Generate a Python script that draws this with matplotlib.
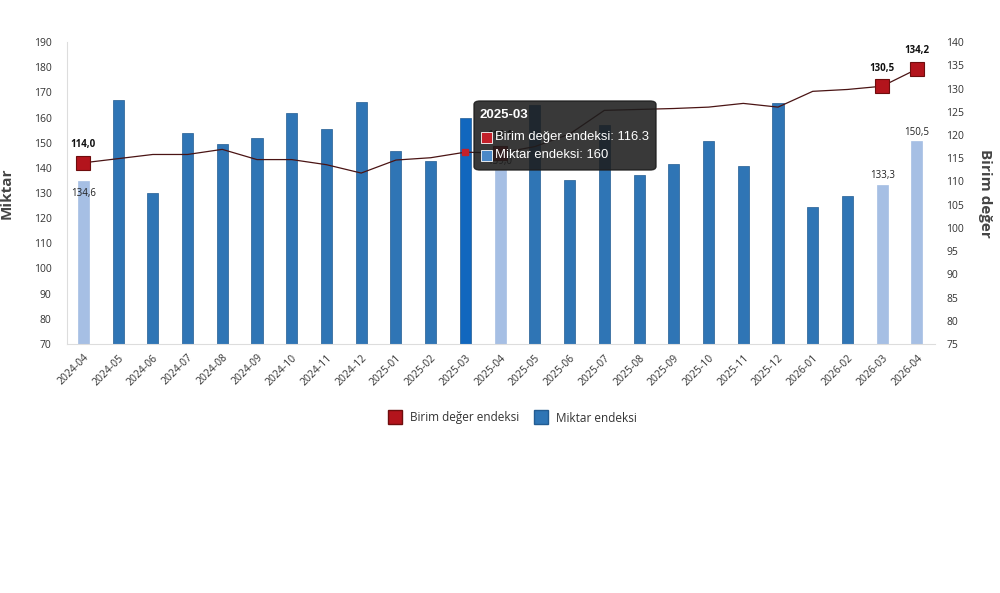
import matplotlib.pyplot as plt
import numpy as np
from matplotlib.patches import FancyBboxPatch, Rectangle
from matplotlib.lines import Line2D

plt.rcParams['font.family'] = ['Open Sans', 'DejaVu Sans']

months = ['2024-04', '2024-05', '2024-06', '2024-07', '2024-08', '2024-09', '2024-10',
          '2024-11', '2024-12', '2025-01', '2025-02', '2025-03', '2025-04', '2025-05',
          '2025-06', '2025-07', '2025-08', '2025-09', '2025-10', '2025-11', '2025-12',
          '2026-01', '2026-02', '2026-03', '2026-04']
miktar = [134.6, 167.0, 130.0, 154.0, 149.5, 152.0, 162.0, 155.6, 166.3,
          146.8, 142.8, 160.0, 139.0, 165.0, 135.1, 157.2, 137.1, 141.7, 150.6, 140.8, 165.6,
          124.5, 128.8, 133.3, 150.5]
birim = [114.0, 114.9, 115.8, 115.8, 116.9, 114.7, 114.7, 113.6, 111.8,
         114.6, 115.1, 116.3, 116.1, 117.5, 120.2, 125.3, 125.5, 125.7, 126.0, 126.8, 126.0,
         129.4, 129.8, 130.5, 134.2]
highlight = [0, 12, 23, 24]   # light bars + labelled points
hover = 11                    # 2025-03 tooltip

blue = '#2f75b5'
light = '#a6bfe4'
red = '#b3141c'

fig = plt.figure(figsize=(10, 5.93), dpi=100)
ax = fig.add_axes([0.067, 0.42, 0.868, 0.509])
ax2 = ax.twinx()

x = np.arange(len(months))
colors = [light if i in highlight else blue for i in x]
colors[hover] = '#1167be'
edges = [light if i in highlight else '#235c92' for i in x]
ax.bar(x, miktar, width=0.32, color=colors, edgecolor=edges, linewidth=0.5, zorder=2)

ax.set_ylim(70, 190)
ax.set_yticks(np.arange(70, 191, 10))
ax.set_xlim(-0.47, 24.52)
ax.set_xticks(x)
ax.set_xticklabels(months, rotation=45, ha='right', rotation_mode='anchor', fontsize=7.5, color='#333333')
ax.tick_params(axis='y', length=0, pad=11, labelsize=7.5, labelcolor='#333333')
ax.tick_params(axis='x', length=0, pad=6)
for s in ['top', 'right']:
    ax.spines[s].set_visible(False)
ax.spines['left'].set_color('#dddddd')
ax.spines['bottom'].set_color('#dddddd')
ax.set_ylabel('Miktar', fontsize=11, fontweight='bold', color='#444444')
ax.yaxis.set_label_coords(-0.061, 0.5)

ax2.set_ylim(75, 140)
ax2.set_yticks(np.arange(75, 141, 5))
ax2.tick_params(axis='y', length=0, pad=8, labelsize=7.5, labelcolor='#333333')
for s in ax2.spines.values():
    s.set_visible(False)
ax2.set_ylabel('Birim değer', fontsize=11, fontweight='bold', color='#444444',
               rotation=-90, va='center')
ax2.yaxis.set_label_coords(1.058, 0.5)

ax2.plot(x, birim, color='#4a1414', linewidth=0.9, zorder=3)
hx = [x[i] for i in highlight]
hy = [birim[i] for i in highlight]
ax2.plot(hx, hy, 's', markersize=9.5, markerfacecolor=red, markeredgecolor='#6e0d0d',
         markeredgewidth=0.8, zorder=4)
ax2.plot(x[hover], birim[hover], 's', markersize=4, color='#c4202a', zorder=4)

for i in highlight:
    ax2.annotate(f'{birim[i]:.1f}'.replace('.', ','), (x[i], birim[i]), xytext=(0, 13),
                 textcoords='offset points', ha='center', va='center', fontsize=7,
                 fontweight='bold', color='#111111', zorder=5)
    off = -8.5 if i == 0 else 6.5
    ax.annotate(f'{miktar[i]:.1f}'.replace('.', ','), (x[i], miktar[i]), xytext=(0, off),
                textcoords='offset points', ha='center', va='center', fontsize=7,
                color='#222222', zorder=5)

# tooltip (hover state in the screenshot)
W, H = fig.get_size_inches() * fig.dpi
def fx(px):
    return px / W
def fy(py):
    return 1 - py / H
box = FancyBboxPatch((fx(474), fy(170)), fx(656) - fx(474), fy(101) - fy(170),
                     boxstyle='round,pad=0,rounding_size=0.006', transform=fig.transFigure,
                     facecolor='#1d1d1d', edgecolor='#1d1d1d', alpha=0.88, zorder=10)
fig.patches.append(box)
tfam = ['Liberation Sans', 'DejaVu Sans']
fig.text(fx(480), fy(115), months[hover], fontsize=9.5, fontweight='bold', color='white',
         family=tfam, va='center', zorder=11)
fig.patches.append(Rectangle((fx(481), fy(143)), fx(11), 11 / H, transform=fig.transFigure,
                             facecolor='#c4202a', edgecolor='white', linewidth=0.6, zorder=11))
fig.patches.append(Rectangle((fx(481), fy(161)), fx(11), 11 / H, transform=fig.transFigure,
                             facecolor='#4b88c7', edgecolor='white', linewidth=0.6, zorder=11))
fig.text(fx(495), fy(137), f'Birim değer endeksi: {birim[hover]}', fontsize=9.4, color='white',
         family=tfam, va='center', zorder=11)
fig.text(fx(495), fy(155), f'Miktar endeksi: {miktar[hover]:.0f}', fontsize=9.4, color='white',
         family=tfam, va='center', zorder=11)

handles = [Line2D([], [], marker='s', linestyle='none', markersize=10, markerfacecolor=red,
                  markeredgecolor='#6e0d0d'),
           Line2D([], [], marker='s', linestyle='none', markersize=10, markerfacecolor=blue,
                  markeredgecolor='#235c92')]
fig.legend(handles, ['Birim değer endeksi', 'Miktar endeksi'], loc='center',
           bbox_to_anchor=(0.51, 1 - 418 / 593), ncol=2, frameon=False, fontsize=8.5,
           handletextpad=0.3, columnspacing=0.8, labelcolor='#333333')

plt.savefig('out.png', dpi=100)
